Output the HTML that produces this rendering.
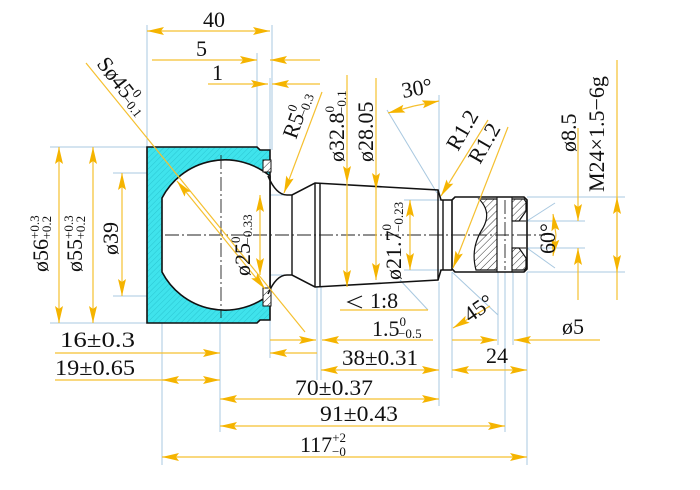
<!DOCTYPE html>
<html><head><meta charset="utf-8"><style>
html,body{margin:0;padding:0;background:#fff;}
svg{display:block;}
text{font-family:"Liberation Serif",serif;fill:#111;}
</style></head><body>
<svg width="700" height="490" viewBox="0 0 700 490" xmlns="http://www.w3.org/2000/svg">
<defs>
<marker id="a" markerUnits="userSpaceOnUse" markerWidth="18" markerHeight="10" refX="17" refY="4" orient="auto-start-reverse">
<path d="M0,0 L17,4 L0,8 L3,4 z" fill="#f5b400"/>
</marker>
<pattern id="h" width="4" height="4" patternUnits="userSpaceOnUse" patternTransform="rotate(45)">
<rect width="4" height="4" fill="#3fe3ec"/><line x1="0" y1="0" x2="0" y2="4" stroke="#2bc6d2" stroke-width="1"/>
</pattern>
<pattern id="hh" width="5" height="5" patternUnits="userSpaceOnUse" patternTransform="rotate(45)">
<rect width="5" height="5" fill="#fff"/><line x1="0" y1="0" x2="0" y2="5" stroke="#333" stroke-width="1"/>
</pattern>
</defs>

<g stroke="#a8c8e0" stroke-width="1" fill="none">
<line x1="147" y1="25" x2="147" y2="147"/><line x1="257" y1="53" x2="257" y2="147"/>
<line x1="270" y1="78" x2="270" y2="150"/><line x1="272" y1="25" x2="272" y2="150"/>
<line x1="50" y1="147" x2="147" y2="147"/><line x1="113" y1="173" x2="147" y2="173"/>
<line x1="113" y1="296" x2="162" y2="296"/><line x1="50" y1="323" x2="147" y2="323"/>
<line x1="162" y1="296" x2="162" y2="465"/><line x1="220" y1="320" x2="220" y2="432"/>
<line x1="270" y1="320" x2="270" y2="358"/><line x1="317" y1="287" x2="317" y2="380"/>
<line x1="321" y1="287" x2="321" y2="380"/><line x1="439" y1="282" x2="439" y2="406"/>
<line x1="452" y1="272" x2="452" y2="378"/><line x1="505" y1="272" x2="505" y2="432"/>
<line x1="498" y1="272" x2="498" y2="345"/><line x1="513" y1="272" x2="513" y2="345"/>
<line x1="527" y1="272" x2="527" y2="465"/>
<line x1="527" y1="197" x2="625" y2="197"/><line x1="527" y1="272" x2="625" y2="272"/>
<line x1="512" y1="221" x2="585" y2="221"/><line x1="512" y1="248" x2="585" y2="248"/>
<line x1="254" y1="195" x2="290" y2="195"/><line x1="254" y1="275" x2="290" y2="275"/>
<line x1="404" y1="200" x2="440" y2="200"/><line x1="404" y1="270" x2="440" y2="270"/>
<line x1="387" y1="110" x2="437" y2="193"/><line x1="439" y1="95" x2="439" y2="193"/>
<line x1="452" y1="272" x2="498" y2="315"/>
<line x1="527" y1="221" x2="555" y2="203"/><line x1="527" y1="248" x2="555" y2="268"/>
<line x1="400" y1="280" x2="428" y2="310"/>
</g>

<path d="M147,147 L257,147 L260,150 L270,150 L270,320 L260,320 L257,323 L147,323 Z" fill="url(#h)" stroke="#111" stroke-width="1.6"/>
<path d="M162,198 A71,71 0 0 1 270,176 L270,294 A71,71 0 0 1 162,272 Z" fill="#fff" stroke="#111" stroke-width="1.6"/>
<rect x="263" y="160" width="8" height="12" fill="url(#hh)" stroke="#111"/>
<rect x="263" y="288" width="8" height="18" fill="url(#hh)" stroke="#111"/>
<path d="M268,176 Q276,195 287,195 L292,195 L315,183 L438,190 L441,200 L452,200 M268,294 Q276,275 287,275 L292,275 L315,287 L438,280 L441,270 L452,270" fill="none" stroke="#111" stroke-width="1.6"/>
<g stroke="#111" stroke-width="1.4"><line x1="292" y1="195" x2="292" y2="275"/><line x1="315" y1="183" x2="315" y2="287"/><line x1="320" y1="183" x2="320" y2="287"/><line x1="438" y1="190" x2="438" y2="280"/><line x1="443" y1="200" x2="443" y2="270"/></g>
<path d="M455,197 L524,197 L527,200 L527,269 L524,272 L455,272 L452,269 L452,200 Z" fill="#fff" stroke="#111" stroke-width="1.6"/>
<path d="M479,199 Q492,212 483,228 Q470,248 476,270 L497,270 L497,199 Z" fill="url(#hh)" stroke="#111" stroke-width="1.2"/>
<path d="M512,199 L524,199 L526,202 L526,211 L519,221 L512,221 Z" fill="url(#hh)" stroke="#111" stroke-width="1.2"/>
<path d="M512,248 L519,248 L526,258 L526,268 L524,270 L512,270 Z" fill="url(#hh)" stroke="#111" stroke-width="1.2"/>
<g stroke="#111" stroke-width="1"><line x1="497" y1="197" x2="497" y2="272"/><line x1="512" y1="197" x2="512" y2="272"/><line x1="512" y1="221" x2="526" y2="221"/><line x1="512" y1="248" x2="526" y2="248"/></g>
<g stroke="#222" stroke-width="0.9" stroke-dasharray="14,3,2,3"><line x1="165" y1="235" x2="545" y2="235"/><line x1="221" y1="155" x2="221" y2="318"/><line x1="505" y1="200" x2="505" y2="270"/></g>

<g stroke="#f5c030" stroke-width="1.2" fill="none">
<line x1="147" y1="31" x2="270" y2="31" marker-start="url(#a)" marker-end="url(#a)"/>
<line x1="152" y1="60" x2="257" y2="60" marker-end="url(#a)"/><line x1="320" y1="60" x2="270" y2="60" marker-end="url(#a)"/>
<line x1="208" y1="84" x2="268" y2="84" marker-end="url(#a)"/><line x1="320" y1="84" x2="272" y2="84" marker-end="url(#a)"/>
<line x1="59" y1="147" x2="59" y2="323" marker-start="url(#a)" marker-end="url(#a)"/>
<line x1="93" y1="147" x2="93" y2="323" marker-start="url(#a)" marker-end="url(#a)"/>
<line x1="122" y1="173" x2="122" y2="296" marker-start="url(#a)" marker-end="url(#a)"/>
<line x1="260" y1="195" x2="260" y2="275" marker-start="url(#a)" marker-end="url(#a)"/>
<line x1="347" y1="75" x2="347" y2="183" marker-end="url(#a)"/><line x1="347" y1="183" x2="347" y2="287" marker-end="url(#a)"/>
<line x1="376" y1="78" x2="376" y2="190" marker-end="url(#a)"/><line x1="376" y1="190" x2="376" y2="280" marker-end="url(#a)"/>
<line x1="410" y1="200" x2="410" y2="270" marker-start="url(#a)" marker-end="url(#a)"/>
<line x1="578" y1="128" x2="578" y2="221" marker-end="url(#a)"/><line x1="578" y1="300" x2="578" y2="248" marker-end="url(#a)"/>
<line x1="617" y1="60" x2="617" y2="300"/>
<line x1="617" y1="235" x2="617" y2="197" marker-end="url(#a)"/><line x1="617" y1="235" x2="617" y2="272" marker-end="url(#a)"/>
<line x1="86" y1="63" x2="305" y2="332"/>
<line x1="221" y1="235" x2="177" y2="181" marker-end="url(#a)"/><line x1="221" y1="235" x2="265" y2="289" marker-end="url(#a)"/>
<line x1="322" y1="92" x2="284" y2="193" marker-end="url(#a)"/>
<line x1="488" y1="120" x2="441" y2="196" marker-end="url(#a)"/>
<line x1="508" y1="127" x2="453" y2="268" marker-end="url(#a)"/>
<line x1="414" y1="106" x2="388" y2="113" marker-end="url(#a)"/><line x1="414" y1="106" x2="439" y2="101" marker-end="url(#a)"/>
<line x1="556" y1="235" x2="553" y2="214" marker-end="url(#a)"/><line x1="556" y1="235" x2="553" y2="256" marker-end="url(#a)"/>
<line x1="490" y1="306" x2="453" y2="328" marker-end="url(#a)"/>
<line x1="340" y1="310" x2="428" y2="310"/>
<line x1="55" y1="353" x2="220" y2="353" marker-end="url(#a)"/><line x1="317" y1="353" x2="270" y2="353" marker-end="url(#a)"/>
<line x1="270" y1="340" x2="316" y2="340" marker-end="url(#a)"/><line x1="433" y1="340" x2="322" y2="340" marker-end="url(#a)"/>
<line x1="452" y1="340" x2="497" y2="340" marker-end="url(#a)"/><line x1="600" y1="340" x2="514" y2="340" marker-end="url(#a)"/>
<line x1="55" y1="380" x2="220" y2="380" marker-end="url(#a)"/><line x1="190" y1="380" x2="162" y2="380" marker-end="url(#a)"/>
<line x1="321" y1="370" x2="439" y2="370" marker-start="url(#a)" marker-end="url(#a)"/>
<line x1="452" y1="370" x2="527" y2="370" marker-start="url(#a)" marker-end="url(#a)"/>
<line x1="220" y1="399" x2="439" y2="399" marker-start="url(#a)" marker-end="url(#a)"/>
<line x1="220" y1="426" x2="505" y2="426" marker-start="url(#a)" marker-end="url(#a)"/>
<line x1="162" y1="457" x2="527" y2="457" marker-start="url(#a)" marker-end="url(#a)"/>
</g>

<g font-size="22">
<text x="203" y="27">40</text>
<text x="196" y="56">5</text>
<text x="212" y="80">1</text>
<text x="60" y="347" textLength="75" lengthAdjust="spacingAndGlyphs">16±0.3</text>
<text x="55" y="375" textLength="80" lengthAdjust="spacingAndGlyphs">19±0.65</text>
<text x="342" y="365" textLength="76" lengthAdjust="spacingAndGlyphs">38±0.31</text>
<text x="486" y="363">24</text>
<text x="295" y="395" textLength="78" lengthAdjust="spacingAndGlyphs">70±0.37</text>
<text x="320" y="421" textLength="78" lengthAdjust="spacingAndGlyphs">91±0.43</text>
<text x="300" y="452">117<tspan font-size="13" dy="-10">+2</tspan><tspan font-size="13" dx="-14" dy="14">−0</tspan></text>
<text x="372" y="336">1.5<tspan font-size="13" dy="-10">0</tspan><tspan font-size="13" dx="-8" dy="12">−0.5</tspan></text>
<text x="562" y="334">ø5</text>
<text x="370" y="308">1:8</text>
<text transform="translate(470,323) rotate(-35)">45°</text>
<text transform="translate(403,98) rotate(-10)">30°</text>
<text transform="translate(48,272) rotate(-90)">ø56<tspan font-size="13" dy="-9">+0.3</tspan><tspan font-size="13" dx="-24" dy="12">+0.2</tspan></text>
<text transform="translate(82,272) rotate(-90)">ø55<tspan font-size="13" dy="-9">+0.3</tspan><tspan font-size="13" dx="-24" dy="12">+0.2</tspan></text>
<text transform="translate(118,255) rotate(-90)">ø39</text>
<text transform="translate(250,276) rotate(-90)">ø25<tspan font-size="13" dy="-10">0</tspan><tspan font-size="13" dx="-8" dy="12">−0.33</tspan></text>
<text transform="translate(401,280) rotate(-90)">ø21.7<tspan font-size="13" dy="-10">0</tspan><tspan font-size="13" dx="-8" dy="12">−0.23</tspan></text>
<text transform="translate(344,162) rotate(-90)">ø32.8<tspan font-size="13" dy="-10">0</tspan><tspan font-size="13" dx="-8" dy="12">−0.1</tspan></text>
<text transform="translate(373,162) rotate(-90)">ø28.05</text>
<text transform="translate(576,152) rotate(-90)">ø8.5</text>
<text transform="translate(604,192) rotate(-90)">M24×1.5−6g</text>
<text transform="translate(555,254) rotate(-90)">60°</text>
<text transform="translate(296,140) rotate(-70)">R5<tspan font-size="13" dy="-10">0</tspan><tspan font-size="13" dx="-8" dy="12">−0.3</tspan></text>
<text transform="translate(458,152) rotate(-60)">R1.2</text>
<text transform="translate(480,165) rotate(-60)">R1.2</text>
<text transform="translate(96,64) rotate(52)">Sø45<tspan font-size="13" dy="-10">0</tspan><tspan font-size="13" dx="-8" dy="12">−0.1</tspan></text>
</g>
<path d="M362,296 L348,302 L362,308" fill="none" stroke="#111" stroke-width="1.2"/>
</svg>
</body></html>
